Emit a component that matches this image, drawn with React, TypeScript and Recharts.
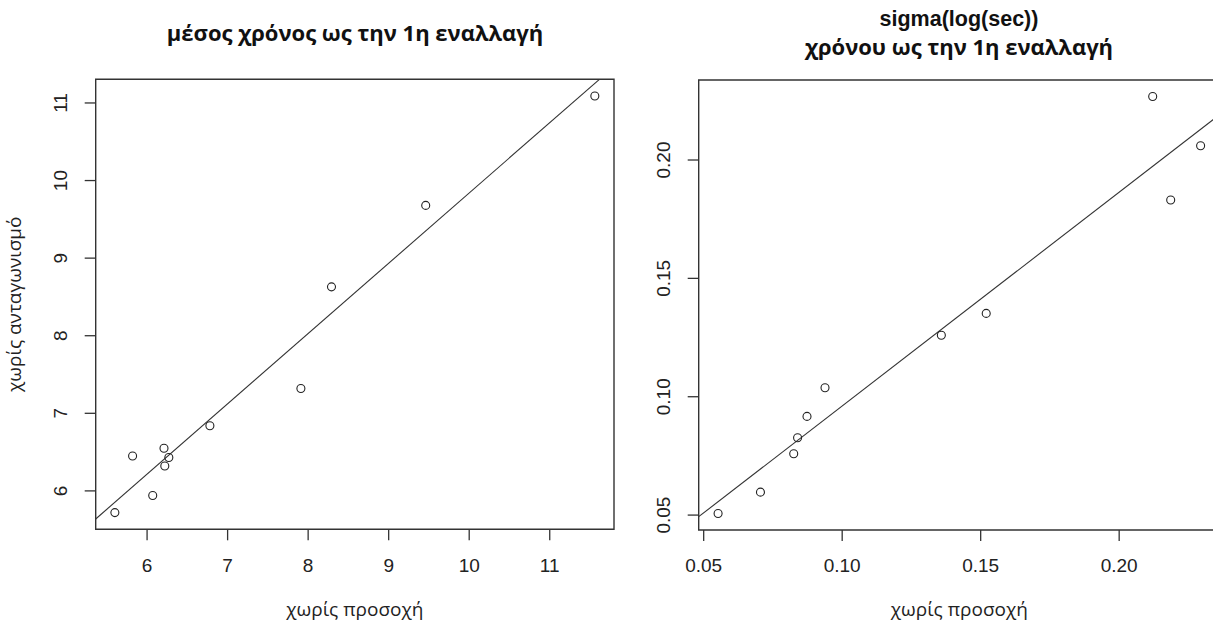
import { ComposedChart, Scatter, XAxis, YAxis, ReferenceArea, Label } from "recharts";

// mean time to the first switch: without attention (x) vs without competition (y)
const meanNoAttention = [5.6, 5.82, 6.07, 6.21, 6.22, 6.27, 6.78, 7.91, 8.29, 9.46, 11.56];
const meanNoCompetition = [5.72, 6.45, 5.94, 6.55, 6.32, 6.43, 6.84, 7.32, 8.63, 9.68, 11.09];
const meanTicks = [6, 7, 8, 9, 10, 11];
const meanXDomain = [5.362, 11.798];
const meanYDomain = [5.505, 11.305];
const meanFit = { intercept: 0.78, slope: 0.906 };

// sigma(log(sec)) of the time to the first switch
const sdNoAttention = [0.0552, 0.0705, 0.0825, 0.0839, 0.0873, 0.0938, 0.1358, 0.152, 0.2121, 0.2186, 0.2294];
const sdNoCompetition = [0.0507, 0.0597, 0.0759, 0.0827, 0.0917, 0.1038, 0.126, 0.1352, 0.2268, 0.1831, 0.206];
const sdTicks = [0.05, 0.1, 0.15, 0.2];
const sdXDomain = [0.0482, 0.2364];
const sdYDomain = [0.0437, 0.2338];
const sdFit = { intercept: 0.0058, slope: 0.903 };

const INK = "#222";
const LATIN = "'Liberation Sans', Arial, sans-serif";
const GREEK = "'Open Sans', 'Noto Sans', sans-serif";

type Fit = { intercept: number; slope: number };

const toPoints = (xs: number[], ys: number[]) => xs.map((x, i) => ({ x, y: ys[i] }));

// regression line cut to the plot box (slope is positive here)
function fitSegment(fit: Fit, xd: number[], yd: number[]) {
  const at = (x: number) => fit.intercept + fit.slope * x;
  const xAt = (y: number) => (y - fit.intercept) / fit.slope;
  let x0 = xd[0];
  let x1 = xd[1];
  if (at(x0) < yd[0]) x0 = xAt(yd[0]);
  if (at(x1) > yd[1]) x1 = xAt(yd[1]);
  return [
    { x: x0, y: at(x0) },
    { x: x1, y: at(x1) },
  ];
}

const OpenCircle = (p: any) => (
  <circle cx={p.cx} cy={p.cy} r={4} fill="none" stroke={INK} strokeWidth={1.1} />
);

const NoDot = () => null;

// y tick labels read upwards, like base R plots
const RotTick = (p: any) => {
  const bx = p.x - 17.5;
  return (
    <text
      x={bx}
      y={p.y}
      transform={`rotate(-90, ${bx}, ${p.y})`}
      textAnchor="middle"
      fontSize={19}
      fontFamily={LATIN}
      fill={INK}
    >
      {p.fmt(p.payload.value)}
    </text>
  );
};

type PanelProps = {
  width: number;
  height: number;
  margin: { top: number; right: number; left: number; bottom: number };
  yAxisWidth: number;
  xAxisHeight: number;
  xDomain: number[];
  yDomain: number[];
  ticks: number[];
  fmt: (v: number) => string;
  points: { x: number; y: number }[];
  fit: Fit;
  xLabel: string;
  yLabel?: string;
};

function Panel(props: PanelProps) {
  const { xDomain, yDomain, fmt } = props;
  return (
    <ComposedChart width={props.width} height={props.height} margin={props.margin}>
      <XAxis
        type="number"
        dataKey="x"
        domain={xDomain}
        ticks={props.ticks}
        tickFormatter={fmt}
        interval={0}
        height={props.xAxisHeight}
        axisLine={false}
        tickLine={{ stroke: "#333", strokeWidth: 1.3 }}
        tickSize={11}
        tickMargin={18}
        tick={{ fill: INK, fontSize: 19, fontFamily: LATIN }}
      >
        <Label
          value={props.xLabel}
          position="insideBottom"
          offset={7}
          fill={INK}
          fontSize={19}
          fontFamily={GREEK}
        />
      </XAxis>
      <YAxis
        type="number"
        dataKey="y"
        domain={yDomain}
        ticks={props.ticks}
        interval={0}
        width={props.yAxisWidth}
        axisLine={false}
        tickLine={{ stroke: "#333", strokeWidth: 1.3 }}
        tickSize={11}
        tickMargin={0}
        tick={<RotTick fmt={fmt} />}
      >
        {props.yLabel && (
          <Label
            value={props.yLabel}
            position="insideLeft"
            angle={-90}
            offset={14}
            textAnchor="middle"
            fill={INK}
            fontSize={19}
            fontFamily={GREEK}
          />
        )}
      </YAxis>
      <ReferenceArea
        x1={xDomain[0]}
        x2={xDomain[1]}
        y1={yDomain[0]}
        y2={yDomain[1]}
        fill="none"
        stroke="#333"
        strokeWidth={1.4}
        fillOpacity={0}
      />
      <Scatter
        data={fitSegment(props.fit, xDomain, yDomain)}
        line={{ stroke: "#333", strokeWidth: 1.1 }}
        shape={NoDot}
        isAnimationActive={false}
      />
      <Scatter data={props.points} shape={OpenCircle} isAnimationActive={false} />
    </ComposedChart>
  );
}

export default function App() {
  return (
    <div
      style={{
        position: "fixed",
        left: 0,
        top: 0,
        width: 1213,
        height: 623,
        overflow: "hidden",
        background: "#fff",
      }}
    >
      <div style={{ position: "absolute", left: 0, top: 0 }}>
        <Panel
          width={620}
          height={623}
          margin={{ top: 79.3, right: 6, left: 0, bottom: 0 }}
          yAxisWidth={95.7}
          xAxisHeight={93.7}
          xDomain={meanXDomain}
          yDomain={meanYDomain}
          ticks={meanTicks}
          fmt={(v) => String(v)}
          points={toPoints(meanNoAttention, meanNoCompetition)}
          fit={meanFit}
          xLabel="χωρίς προσοχή"
          yLabel="χωρίς ανταγωνισμό"
        />
      </div>
      <div style={{ position: "absolute", left: 620, top: 0 }}>
        <Panel
          width={610}
          height={623}
          margin={{ top: 80, right: 10, left: 0, bottom: 0 }}
          yAxisWidth={78.7}
          xAxisHeight={93}
          xDomain={sdXDomain}
          yDomain={sdYDomain}
          ticks={sdTicks}
          fmt={(v) => v.toFixed(2)}
          points={toPoints(sdNoAttention, sdNoCompetition)}
          fit={sdFit}
          xLabel="χωρίς προσοχή"
        />
      </div>
      <svg
        width={1213}
        height={623}
        style={{ position: "absolute", left: 0, top: 0, pointerEvents: "none" }}
      >
        <text x={355} y={41} textAnchor="middle" fontSize={22} fontWeight="bold" fontFamily={GREEK} fill="#111">
          μέσος χρόνος ως την 1η εναλλαγή
        </text>
        <text x={959} y={26} textAnchor="middle" fontSize={21.5} fontWeight="bold" fontFamily={LATIN} fill="#111">
          sigma(log(sec))
        </text>
        <text x={959} y={55} textAnchor="middle" fontSize={22} fontWeight="bold" fontFamily={GREEK} fill="#111">
          χρόνου ως την 1η εναλλαγή
        </text>
      </svg>
    </div>
  );
}
